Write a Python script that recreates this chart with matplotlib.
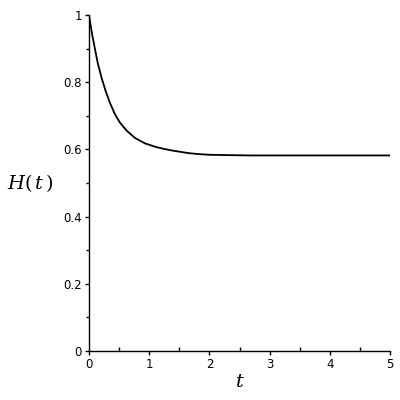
import matplotlib
matplotlib.use("Agg")
import matplotlib.pyplot as plt
from matplotlib.ticker import MultipleLocator

plt.rcParams["mathtext.fontset"] = "dejavuserif"

# values
t = [0.0, 0.05, 0.10, 0.144, 0.209, 0.276, 0.347, 0.430, 0.513, 0.625,
     0.764, 0.93, 1.096, 1.23, 1.37, 1.51, 1.65, 1.82, 2.0, 2.3, 2.7, 3.2, 4.0, 5.0]
H = [1.0, 0.944, 0.898, 0.858, 0.813, 0.774, 0.739, 0.705, 0.680, 0.656,
     0.634, 0.618, 0.608, 0.602, 0.597, 0.593, 0.589, 0.586, 0.584, 0.583, 0.582, 0.582, 0.582, 0.582]

fig = plt.figure(figsize=(4, 4), dpi=100)
ax = fig.add_axes([0.2225, 0.1225, 0.7525, 0.84])

ax.plot(t, H, color="black", lw=1.3)

ax.set_xlim(0, 5)
ax.set_ylim(0, 1)
ax.spines["top"].set_visible(False)
ax.spines["right"].set_visible(False)
ax.spines["left"].set_linewidth(1)
ax.spines["bottom"].set_linewidth(1)

ax.xaxis.set_minor_locator(MultipleLocator(0.5))
ax.yaxis.set_minor_locator(MultipleLocator(0.1))
ax.set_yticks([0, 0.2, 0.4, 0.6, 0.8, 1.0])
ax.set_yticklabels(["0", "0.2", "0.4", "0.6", "0.8", "1"])
ax.set_xticks([0, 1, 2, 3, 4, 5])
ax.set_xticklabels(["0", "1", "2", "3", "4", "5"])

ax.tick_params(which="major", length=3, width=1, labelsize=8.5, pad=2)
ax.tick_params(axis="x", which="minor", direction="in", length=3, width=1)
ax.tick_params(axis="y", which="minor", direction="out", length=2, width=1)

ax.set_xlabel("$t$", fontsize=14, labelpad=1)
ax.set_ylabel("$H(\\,t\\,)$", fontsize=14, rotation=0, labelpad=24, va="center")

fig.savefig("out.png", dpi=100)
